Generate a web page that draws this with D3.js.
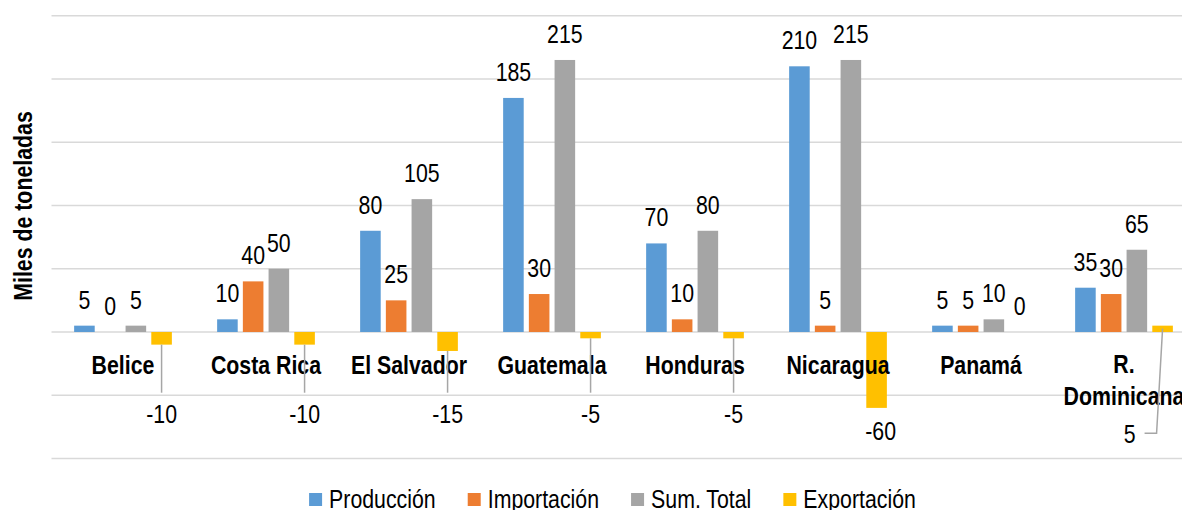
<!DOCTYPE html>
<html>
<head>
<meta charset="utf-8">
<script src="https://cdn.jsdelivr.net/npm/d3@7"></script>
<style>
  body { margin: 0; background: #fff; }
  svg text { font-family: "Liberation Sans", Arial, sans-serif; fill: #000; }
</style>
</head>
<body>
<svg id="chart" width="1182" height="510"></svg>
<script>
// data (miles de toneladas)
const paises = ["Belice", "Costa Rica", "El Salvador", "Guatemala", "Honduras", "Nicaragua", "Panamá", "R. Dominicana"];
const series = ["Producción", "Importación", "Sum. Total", "Exportación"];
const produccion = [5, 10, 80, 185, 70, 210, 5, 35];
const importacion = [0, 40, 25, 30, 10, 5, 5, 30];
const sumTotal = [5, 50, 105, 215, 80, 215, 10, 65];
const exportacion = [-10, -10, -15, -5, -5, -60, 0, 5];
const yTicks = [-100, -50, 0, 50, 100, 150, 200, 250];
const colores = ["#5B9BD5", "#ED7D31", "#A5A5A5", "#FFC000"];

const valores = [produccion, importacion, sumTotal, exportacion];

// no Arial Narrow here, so squeeze Liberation Sans instead
const NARROW = 0.82;
function pos(x, y, rot) {
  return `translate(${x},${y})` + (rot ? ` rotate(${rot})` : "") + ` scale(${NARROW},1)`;
}

const svg = d3.select("svg#chart");

const yScale = d3.scaleLinear().domain([-100, 250]).range([458.5, 15.7]);
const x0 = d3.scaleBand().domain(paises).range([51.5, 1195.5]);
const x1 = d3.scaleBand().domain(series).range([0, x0.bandwidth()])
  .paddingInner(0.2).paddingOuter(0.88);

// gridlines
svg.append("g")
  .selectAll("line")
  .data(yTicks)
  .enter()
  .append("line")
  .attr("x1", 51.5)
  .attr("x2", 1182)
  .attr("y1", (d) => yScale(d))
  .attr("y2", (d) => yScale(d))
  .attr("stroke", "#D9D9D9")
  .attr("stroke-width", 1.5);

// flat list of bars
const barras = [];
paises.forEach((p, i) => {
  series.forEach((s, j) => {
    barras.push({ pais: p, serie: s, v: valores[j][i], color: colores[j] });
  });
});
const bx = (d) => x0(d.pais) + x1(d.serie);
const cx = (d) => bx(d) + x1.bandwidth() / 2;

svg.append("g")
  .selectAll("rect")
  .data(barras)
  .enter()
  .append("rect")
  .attr("x", bx)
  .attr("width", x1.bandwidth())
  .attr("y", (d) => Math.min(yScale(d.v), yScale(0)))
  .attr("height", (d) => Math.abs(yScale(d.v) - yScale(0)))
  .attr("fill", (d) => d.color);

// category labels
const cat = svg.append("g")
  .selectAll("text")
  .data(paises)
  .enter()
  .append("text")
  .attr("text-anchor", "middle")
  .attr("font-size", 26)
  .attr("font-weight", "bold");
cat.each(function (d) {
  const t = d3.select(this);
  const c = x0(d) + x0.bandwidth() / 2;
  if (d === "R. Dominicana") {
    t.attr("transform", pos(c, 373));
    t.append("tspan").attr("x", 0).attr("y", 0).text("R.");
    t.append("tspan").attr("x", 0).attr("y", 32).text("Dominicana");
  } else {
    t.attr("transform", pos(c, 374)).text(d);
  }
});

// data labels
const lineas = svg.append("g");
const etiquetas = svg.append("g");
const yBajo = yScale(-72);
const yGuia = yScale(-48);

barras.forEach((d) => {
  let x = cx(d);
  let y;
  if (d.serie === "Exportación" && d.v < 0) {
    y = Math.max(yBajo, yScale(d.v) + 32);
    if (y === yBajo) {
      lineas.append("line")
        .attr("x1", x).attr("x2", x)
        .attr("y1", yScale(d.v)).attr("y2", yGuia)
        .attr("stroke", "#A6A6A6").attr("stroke-width", 1.5);
    }
    if (d.pais === "Nicaragua") x += 4;
  } else if (d.serie === "Exportación" && d.pais === "R. Dominicana") {
    // label moved below the axis with an elbow leader
    y = yScale(-88);
    lineas.append("path")
      .attr("d", d3.line()([[x, yScale(d.v) + 3], [x - 6, y - 10], [x - 18, y - 10]]))
      .attr("fill", "none")
      .attr("stroke", "#A6A6A6").attr("stroke-width", 1.5);
    x -= 33;
  } else {
    y = yScale(Math.max(d.v, 0)) - 17;
  }
  etiquetas.append("text")
    .attr("transform", pos(x, y))
    .attr("text-anchor", "middle")
    .attr("font-size", 26)
    .text(d.v);
});

// y axis title
svg.append("text")
  .attr("transform", pos(32, 206, -90))
  .attr("text-anchor", "middle")
  .attr("font-size", 26)
  .attr("font-weight", "bold")
  .text("Miles de toneladas");

// legend
const leyenda = svg.append("g");
const hueco = 32;
let lx = 0;
series.forEach((s, j) => {
  const g = leyenda.append("g").attr("transform", `translate(${lx},0)`);
  g.append("rect").attr("x", 0).attr("y", -15).attr("width", 13).attr("height", 13).attr("fill", colores[j]);
  const t = g.append("text").attr("transform", pos(20, 0)).attr("font-size", 26).text(s);
  lx += 20 + t.node().getComputedTextLength() * NARROW + hueco;
});
const ancho = lx - hueco;
leyenda.attr("transform", `translate(${612.5 - ancho / 2},508)`);
</script>
</body>
</html>
